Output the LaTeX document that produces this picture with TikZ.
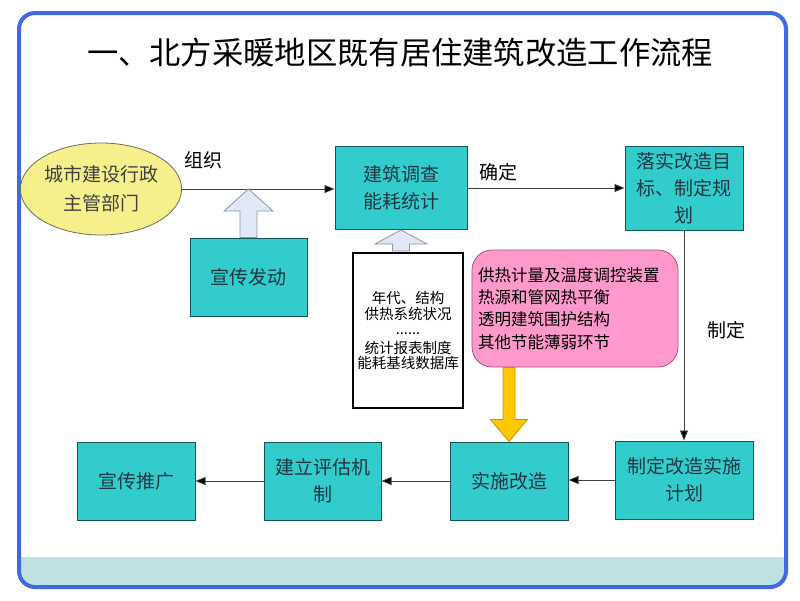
\documentclass[tikz,border=0pt]{standalone}
\usepackage{fontspec}
\setmainfont{Noto Sans CJK SC}
\usetikzlibrary{arrows.meta,calc,shapes.geometric}
\definecolor{frameblue}{RGB}{65,105,225}
\definecolor{bandcol}{RGB}{190,225,228}
\definecolor{tealbox}{RGB}{51,204,204}
\definecolor{tealedge}{RGB}{20,85,90}
\definecolor{boxtext}{RGB}{30,55,65}
\definecolor{ellfill}{RGB}{245,240,140}
\definecolor{elledge}{RGB}{110,110,90}
\definecolor{pinkfill}{RGB}{255,153,204}
\definecolor{pinkedge}{RGB}{170,80,130}
\definecolor{goldfill}{RGB}{255,200,0}
\definecolor{goldedge}{RGB}{205,145,0}
\definecolor{hollowfill}{RGB}{226,232,245}
\definecolor{hollowedge}{RGB}{140,150,165}
\begin{document}
\begin{tikzpicture}[x=1pt,y=-1pt,
  tbox/.style={draw=tealedge,fill=tealbox,line width=1pt,text=boxtext,
    font=\fontsize{19}{27}\selectfont,align=center,inner sep=0pt},
  flow/.style={draw=black!75,line width=0.8pt,-{Triangle[length=10pt,width=8pt,fill=black]}},
  lbl/.style={font=\fontsize{19}{23}\selectfont,inner sep=0pt},
  hollow/.style={fill=hollowfill,draw=hollowedge,line width=0.8pt},
  goldarrow/.style={fill=goldfill,draw=goldedge,line width=0.8pt}]
\useasboundingbox (0,0) rectangle (800,600);
% frame and bottom band
\begin{scope}
  \clip[rounded corners=16pt] (19,13) rectangle (786,587);
  \fill[bandcol] (19,557) rectangle (786,587);
\end{scope}
\draw[frameblue,line width=4pt,rounded corners=16pt] (19,13) rectangle (786,587);
% title
\node[font=\fontsize{31.3}{36}\selectfont] (title) at (400,53) {一、北方采暖地区既有居住建筑改造工作流程};
% nodes
\node[ellipse,draw=elledge,fill=ellfill,line width=0.8pt,minimum width=160,minimum height=92,
  inner sep=0pt,align=center,font=\fontsize{19}{29}\selectfont,text=black!75] (gov) at (101,189) {城市建设行政\\主管部门};
\node[tbox,minimum width=132,minimum height=83] (survey) at (401,188) {建筑调查\\能耗统计};
\node[tbox,minimum width=118,minimum height=84] (plan) at (684,188) {落实改造目\\标、制定规\\划};
\node[tbox,minimum width=117,minimum height=78] (mob) at (248.5,277) {宣传发动};
\node[tbox,minimum width=138,minimum height=78] (impl) at (684,480) {制定改造实施\\计划};
\node[tbox,minimum width=118,minimum height=78] (act) at (509,481) {实施改造};
\node[tbox,minimum width=117,minimum height=78] (eval) at (322.5,481) {建立评估机\\制};
\node[tbox,minimum width=118,minimum height=78] (promo) at (136,481) {宣传推广};
\node[draw=black,fill=white,line width=2pt,minimum width=110,minimum height=155,inner sep=0pt,
  align=center,font=\fontsize{14.5}{15.5}\selectfont] (doc) at (408,330.5)
  {年代、结构\\供热系统状况\\......\\[3pt]统计报表制度\\能耗基线数据库};
\node[draw=pinkedge,fill=pinkfill,line width=0.8pt,rounded corners=20pt,text width=194,
  minimum height=117,inner xsep=6pt,inner ysep=0pt,align=left,
  font=\fontsize{16.5}{22.3}\selectfont] (pink) at (575,308.5)
  {供热计量及温度调控装置\\热源和管网热平衡\\透明建筑围护结构\\其他节能薄弱环节};
% connectors
\draw[flow] (gov.east) -- (gov.east -| survey.west);
\draw[flow] (survey.east) -- (plan.west);
\draw[flow] (plan.south) -- (impl.north);
\draw[flow] (impl.west) -- (impl.west -| act.east);
\draw[flow] (act.west) -- (eval.east);
\draw[flow] (eval.west) -- (promo.east);
% labels
\node[lbl] (lorg) at (203,160) {组织};
\node[lbl] (lconf) at (498,172) {确定};
\node[lbl] (lmake) at (726,330) {制定};
% hollow arrow from mob to main line
\coordinate (t1) at (mob.north |- gov.east);
\draw[hollow] (mob.north) ++(-8.5,0) -- ($(t1)+(-8.5,22)$) -- ($(t1)+(-24.5,22)$) -- (t1)
  -- ($(t1)+(24.5,22)$) -- ($(t1)+(8.5,22)$) -- ($(mob.north)+(8.5,0)$) -- cycle;
% hollow arrow from doc to survey
\coordinate (t2) at (survey.south);
\coordinate (b2) at (survey.south |- doc.north);
\draw[hollow] ($(b2)+(-8.5,-1)$) -- ($(t2)+(-8.5,14)$) -- ($(t2)+(-26,14)$) -- (t2)
  -- ($(t2)+(26,14)$) -- ($(t2)+(8.5,14)$) -- ($(b2)+(8.5,-1)$) -- cycle;
% gold arrow from pink to act
\coordinate (t3) at (act.north);
\coordinate (b3) at (act.north |- pink.south);
\draw[goldarrow] ($(b3)+(-6,0)$) -- ($(t3)+(-6,-22)$) -- ($(t3)+(-18.5,-22)$) -- (t3)
  -- ($(t3)+(18.5,-22)$) -- ($(t3)+(6,-22)$) -- ($(b3)+(6,0)$) -- cycle;
\end{tikzpicture}
\end{document}
